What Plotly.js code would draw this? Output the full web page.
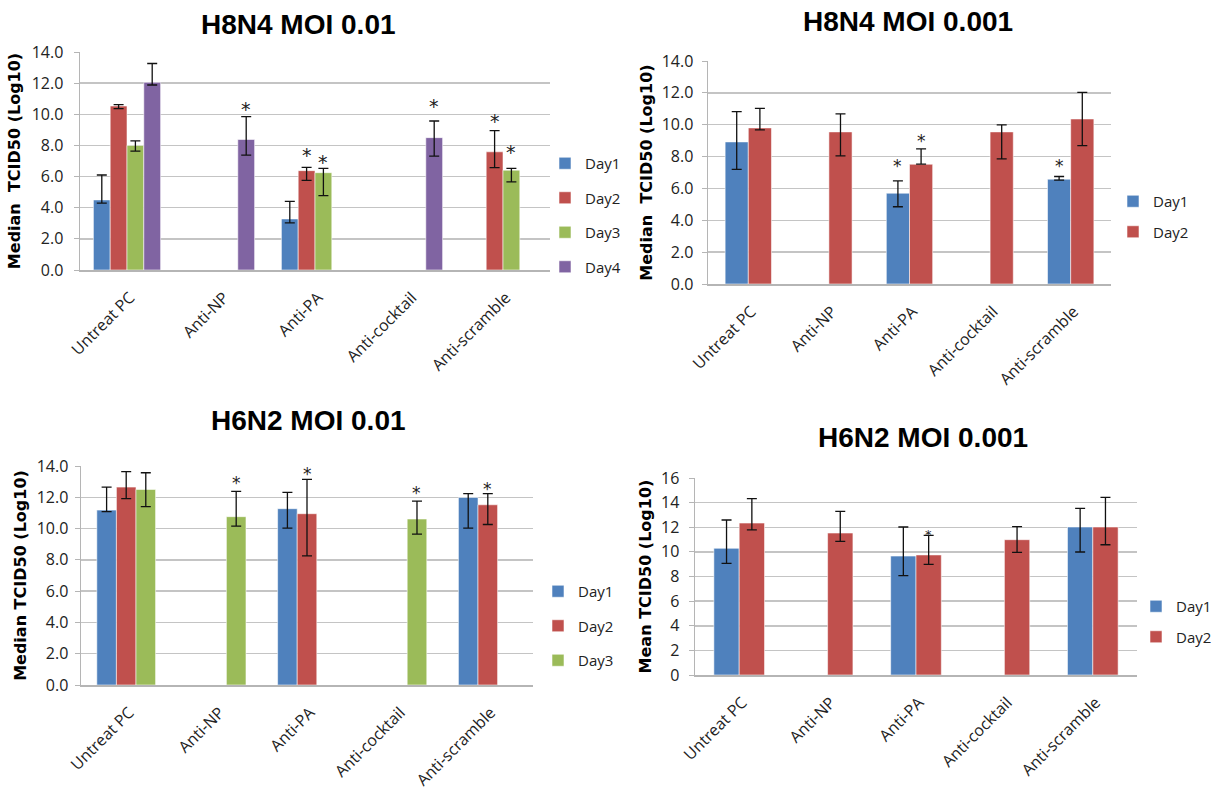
<!DOCTYPE html>
<html><head><meta charset="utf-8">
<script src="https://cdn.plot.ly/plotly-3.0.1.min.js"></script>
<style>html,body{margin:0;padding:0;background:#fff}</style>
</head><body><div id="chart" style="width:1215px;height:790px"></div>
<script>
// ---------- data ----------
const categories = ['Untreat PC', 'Anti-NP', 'Anti-PA', 'Anti-cocktail', 'Anti-scramble'];
const dayNames = ['Day1', 'Day2', 'Day3', 'Day4'];

// Panel A: H8N4 MOI 0.01 (Median TCID50, log10)
const a_day1 = [4.5, null, 3.28, null, null];
const a_day1_up = [1.6, null, 1.13, null, null];
const a_day1_down = [0.21, null, 0.25, null, null];
const a_day2 = [10.53, null, 6.38, null, 7.59];
const a_day2_up = [0.09, null, 0.21, null, 1.36];
const a_day2_down = [0.17, null, 0.62, null, 1.01];
const a_day3 = [8.0, null, 6.25, null, 6.41];
const a_day3_up = [0.29, null, 0.27, null, 0.11];
const a_day3_down = [0.37, null, 1.47, null, 0.75];
const a_day4 = [12.05, 8.38, null, 8.5, null];
const a_day4_up = [1.21, 1.47, null, 1.07, null];
const a_day4_down = [0.17, 1.0, null, 1.19, null];
const a_star_cat = [1, 2, 2, 3, 4, 4];
const a_star_series = [3, 1, 2, 3, 1, 2];
const a_star_y = [10.6, 7.63, 7.2, 10.8, 9.79, 7.84];

// Panel B: H8N4 MOI 0.001
const b_day1 = [8.92, null, 5.70, null, 6.58];
const b_day1_up = [1.9, null, 0.78, null, 0.17];
const b_day1_down = [1.73, null, 0.85, null, 0.06];
const b_day2 = [9.8, 9.55, 7.52, 9.55, 10.36];
const b_day2_up = [1.23, 1.13, 0.96, 0.44, 1.67];
const b_day2_down = [0.13, 1.51, 0.0, 1.69, 1.67];
const b_star_cat = [2, 2, 4];
const b_star_series = [0, 1, 0];
const b_star_y = [7.65, 9.21, 7.65];

// Panel C: H6N2 MOI 0.01
const c_day1 = [11.18, null, 11.27, null, 11.99];
const c_day1_up = [1.47, null, 1.04, null, 0.24];
const c_day1_down = [0.1, null, 1.24, null, 1.96];
const c_day2 = [12.65, null, 10.95, null, 11.52];
const c_day2_up = [0.99, null, 2.2, null, 0.71];
const c_day2_down = [0.74, null, 2.69, null, 1.26];
const c_day3 = [12.5, 10.76, null, 10.61, null];
const c_day3_up = [1.07, 1.62, null, 1.15, null];
const c_day3_down = [1.1, 0.6, null, 0.96, null];
const c_star_cat = [1, 2, 3, 4];
const c_star_series = [2, 1, 2, 1];
const c_star_y = [13.1, 13.7, 12.46, 12.74];

// Panel D: H6N2 MOI 0.001 (Mean TCID50, log10)
const d_day1 = [10.29, null, 9.66, null, 12.02];
const d_day1_up = [2.3, null, 2.36, null, 1.52];
const d_day1_down = [1.22, null, 1.59, null, 2.03];
const d_day2 = [12.34, 11.53, 9.75, 10.99, 12.02];
const d_day2_up = [1.98, 1.76, 1.59, 1.06, 2.41];
const d_day2_down = [0.56, 0.67, 0.76, 1.03, 1.44];
const d_star_cat = [2];
const d_star_series = [1];
const d_star_y = [11.6];

// ---------- styling / layout ----------
const W = 1215, H = 790;
const fx = v => v / W;
const fy = v => 1 - v / H;
const colors = ['#4F81BD', '#C0504D', '#9BBB59', '#8064A2'];

const panels = [
  {title: 'H8N4 MOI 0.01', ytitle: 'Median\u00a0 TCID50 (Log10)',
   series: [[a_day1, a_day1_up, a_day1_down], [a_day2, a_day2_up, a_day2_down], [a_day3, a_day3_up, a_day3_down], [a_day4, a_day4_up, a_day4_down]],
   stars: [a_star_cat, a_star_series, a_star_y], starSize: 19,
   box: [80, 52, 550, 270], group: 0.715, range: [0, 14], fmt: '.1f',
   titlePos: [298, 25], legendPos: [545, 147], legendGap: 12, tlso: 7, ytso: 7},
  {title: 'H8N4 MOI 0.001', ytitle: 'Median\u00a0 TCID50 (Log10)',
   series: [[b_day1, b_day1_up, b_day1_down], [b_day2, b_day2_up, b_day2_down]],
   stars: [b_star_cat, b_star_series, b_star_y], starSize: 17,
   box: [708, 61, 1111, 284], group: 0.575, range: [0, 14], fmt: '.1f',
   titlePos: [908, 21], legendPos: [1113, 185], legendGap: 8, tlso: 5, ytso: 5},
  {title: 'H6N2 MOI 0.01', ytitle: 'Median TCID50 (Log10)',
   series: [[c_day1, c_day1_up, c_day1_down], [c_day2, c_day2_up, c_day2_down], [c_day3, c_day3_up, c_day3_down]],
   stars: [c_star_cat, c_star_series, c_star_y], starSize: 17,
   box: [81, 466, 533, 685], group: 0.65, range: [0, 14], fmt: '.1f',
   titlePos: [308, 421], legendPos: [538, 575], legendGap: 12, tlso: 3, ytso: 6},
  {title: 'H6N2 MOI 0.001', ytitle: 'Mean TCID50 (Log10)',
   series: [[d_day1, d_day1_up, d_day1_down], [d_day2, d_day2_up, d_day2_down]],
   stars: [d_star_cat, d_star_series, d_star_y], starSize: 13,
   box: [695, 478, 1137, 675], group: 0.573, range: [0, 16], fmt: 'd',
   titlePos: [923, 438], legendPos: [1136, 590], legendGap: 8, tlso: 6, ytso: 5}
];

const traces = [];
const layout = {
  width: W, height: H, margin: {l: 0, r: 0, t: 0, b: 0, autoexpand: false},
  paper_bgcolor: '#fff', plot_bgcolor: '#fff',
  barmode: 'overlay', showlegend: true,
  annotations: []
};

panels.forEach((p, k) => {
  const suf = k === 0 ? '' : String(k + 1);
  const n = p.series.length;
  const w = p.group / n;
  const legendId = k === 0 ? 'legend' : 'legend' + (k + 1);
  p.series.forEach((s, i) => {
    traces.push({
      type: 'bar', x: categories, y: s[0], name: dayNames[i],
      xaxis: 'x' + suf, yaxis: 'y' + suf,
      width: w, offset: -p.group / 2 + i * w,
      marker: {color: colors[i], line: {color: 'rgba(255,255,255,0.55)', width: 1}},
      error_y: {type: 'data', symmetric: false, array: s[1], arrayminus: s[2],
                color: '#111', thickness: 1.3, width: 5},
      legend: legendId, legendgroup: 'p' + k + 's' + i, showlegend: true,
      hoverinfo: 'x+y+name'
    });
  });
  const [x0, y0, x1, y1] = p.box;
  layout['xaxis' + suf] = {
    domain: [fx(x0), fx(x1)], anchor: 'y' + suf, type: 'category',
    range: [-0.5, 4.5], automargin: false,
    showline: true, linecolor: '#b5b5b5', linewidth: 2, ticks: '',
    showgrid: false, zeroline: false, tickangle: -45,
    ticklabelstandoff: 10, ticklabelshift: 3,
    tickfont: {family: 'Open Sans', size: 16, color: '#222'}
  };
  layout['yaxis' + suf] = {
    domain: [fy(y1), fy(y0)], anchor: 'x' + suf, range: p.range, dtick: 2,
    tickformat: p.fmt, showgrid: true, gridcolor: '#c4c4c4', gridwidth: 1.5,
    showline: true, linecolor: '#b5b5b5', linewidth: 1.5, automargin: false,
    ticks: 'outside', ticklen: 5, tickcolor: '#b5b5b5', zeroline: false,
    ticklabelstandoff: p.tlso,
    tickfont: {family: 'Open Sans', size: 16, color: '#222'},
    title: {text: '<b>' + p.ytitle + '</b>', standoff: p.ytso,
            font: {family: 'DejaVu Sans', size: 16, color: '#000'}}
  };
  layout[legendId] = {
    x: fx(p.legendPos[0]), y: fy(p.legendPos[1]), xanchor: 'left', yanchor: 'top',
    bgcolor: 'rgba(0,0,0,0)', traceorder: 'grouped', tracegroupgap: p.legendGap,
    font: {family: 'Open Sans', size: 15, color: '#222'}, itemwidth: 30
  };
  layout.annotations.push({
    xref: 'paper', yref: 'paper', x: fx(p.titlePos[0]), y: fy(p.titlePos[1]),
    xanchor: 'center', yanchor: 'middle', showarrow: false,
    text: '<b>' + p.title + '</b>',
    font: {family: 'Liberation Sans', size: 28, color: '#000'}
  });
  const [sc, ss, sy] = p.stars;
  sc.forEach((c, j) => {
    layout.annotations.push({
      xref: 'x' + suf, yref: 'y' + suf,
      x: c - p.group / 2 + (ss[j] + 0.5) * w, y: sy[j],
      text: '*', showarrow: false, xanchor: 'center', yanchor: 'middle',
      yshift: -p.starSize * 0.2,
      font: {family: 'DejaVu Sans', size: p.starSize, color: '#222'}
    });
  });
});

Plotly.newPlot('chart', traces, layout, {staticPlot: true, displayModeBar: false});
</script>
</body></html>
